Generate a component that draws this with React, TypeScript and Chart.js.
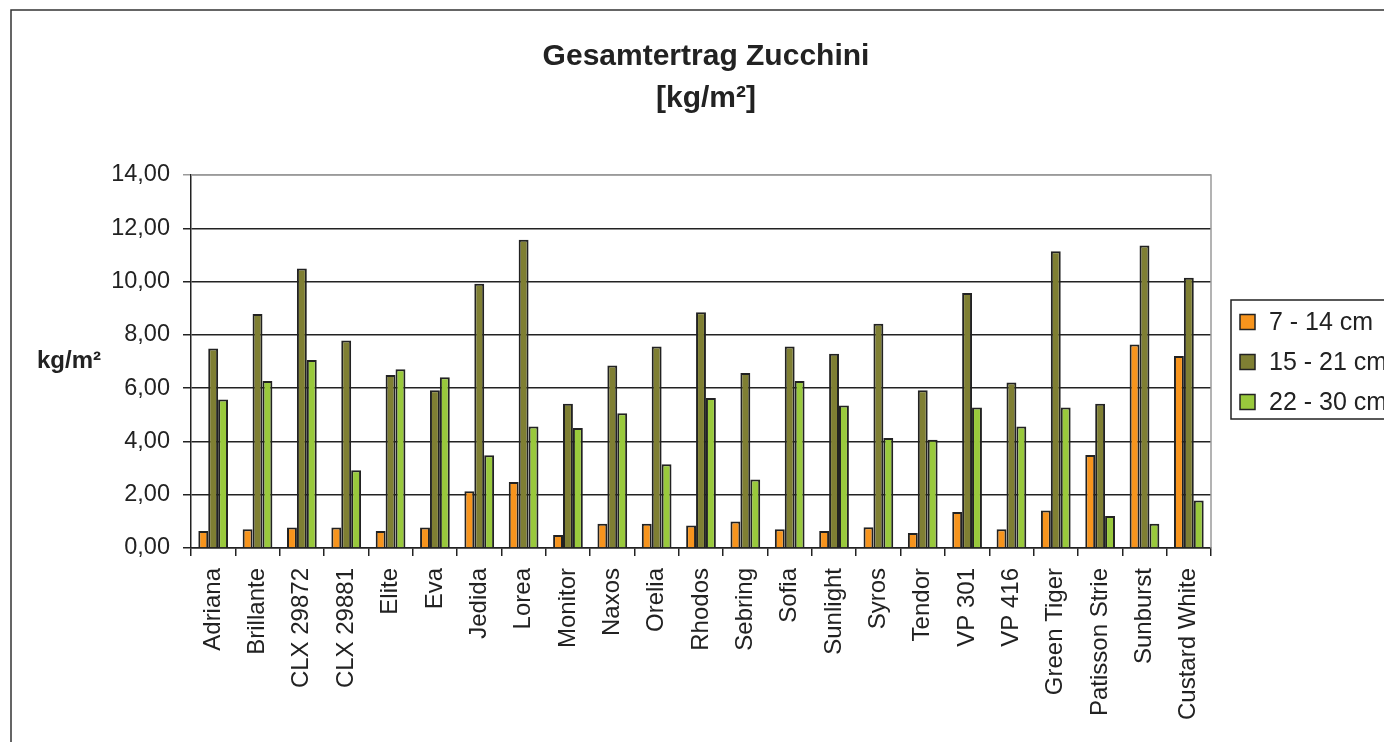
import React, { useEffect, useRef } from "react";
import { Chart, registerables } from "chart.js";

Chart.register(...registerables);

const categories = [
  "Adriana", "Brillante", "CLX 29872", "CLX 29881", "Elite", "Eva", "Jedida", "Lorea",
  "Monitor", "Naxos", "Orelia", "Rhodos", "Sebring", "Sofia", "Sunlight", "Syros",
  "Tendor", "VP 301", "VP 416", "Green Tiger", "Patisson Strie", "Sunburst", "Custard White",
];
const seriesLabels = ["7 - 14 cm", "15 - 21 cm", "22 - 30 cm"];
const small = [0.64, 0.70, 0.77, 0.77, 0.64, 0.77, 2.13, 2.48, 0.49, 0.91, 0.91, 0.84, 0.99, 0.70, 0.64, 0.78, 0.56, 1.35, 0.70, 1.41, 3.49, 7.64, 7.21];
const medium = [7.49, 8.78, 10.49, 7.79, 6.49, 5.92, 9.92, 11.57, 5.41, 6.85, 7.56, 8.85, 6.57, 7.56, 7.29, 8.42, 5.92, 9.57, 6.21, 11.14, 5.41, 11.35, 10.14];
const large = [5.57, 6.27, 7.06, 2.92, 6.71, 6.41, 3.48, 4.56, 4.50, 5.06, 3.14, 5.63, 2.57, 6.27, 5.35, 4.13, 4.06, 5.27, 4.56, 5.27, 1.20, 0.91, 1.78];
const colors = ["#F7941D", "#7F7F33", "#99C93C"];
const titleLines = ["Gesamtertrag Zucchini", "[kg/m²]"];
const yTitle = "kg/m²";

const FONT = '"Liberation Sans", Arial, sans-serif';

export default function App() {
  const ref = useRef<HTMLCanvasElement | null>(null);

  useEffect(() => {
    if (!ref.current) return;
    const decor = {
      id: "decor",
      beforeDraw(chart: any) {
        const ctx = chart.ctx;
        ctx.save();
        ctx.fillStyle = "#ffffff";
        ctx.fillRect(0, 0, chart.width, chart.height);
        ctx.strokeStyle = "#333333";
        ctx.lineWidth = 1.5;
        ctx.strokeRect(11, 10, chart.width + 50, chart.height + 50);
        ctx.restore();
      },
      afterDatasetsDraw(chart: any) {
        const ctx = chart.ctx;
        const a = chart.chartArea;
        ctx.save();
        ctx.strokeStyle = "#9a9a9a";
        ctx.lineWidth = 1.5;
        ctx.beginPath();
        ctx.moveTo(a.left, a.top);
        ctx.lineTo(a.right, a.top);
        ctx.lineTo(a.right, a.bottom);
        ctx.stroke();
        ctx.restore();
      },
      afterDraw(chart: any) {
        const ctx = chart.ctx;
        const a = chart.chartArea;
        ctx.save();
        ctx.fillStyle = "#222222";
        ctx.textAlign = "center";
        ctx.textBaseline = "alphabetic";
        ctx.font = `bold 30px ${FONT}`;
        ctx.fillText(titleLines[0], 706, 65);
        ctx.fillText(titleLines[1], 706, 107);

        ctx.textAlign = "left";
        ctx.font = `bold 24px ${FONT}`;
        ctx.textBaseline = "middle";
        ctx.fillText(yTitle, 37, (a.top + a.bottom) / 2);

        // legend
        ctx.strokeStyle = "#222222";
        ctx.lineWidth = 1.5;
        ctx.strokeRect(1231, 300, 300, 119);
        const ys = [322, 362, 402];
        chart.data.datasets.forEach((ds: any, i: number) => {
          ctx.fillStyle = ds.backgroundColor;
          ctx.fillRect(1240, ys[i] - 7.5, 15, 15);
          ctx.strokeStyle = "#222222";
          ctx.lineWidth = 1.5;
          ctx.strokeRect(1240, ys[i] - 7.5, 15, 15);
          ctx.fillStyle = "#222222";
          ctx.font = `25px ${FONT}`;
          ctx.textBaseline = "middle";
          ctx.fillText(ds.label, 1269, ys[i] + 1);
        });
        ctx.restore();
      },
    };

    const chart = new Chart(ref.current, {
      type: "bar",
      data: {
        labels: categories,
        datasets: [small, medium, large].map((d, i) => ({
          label: seriesLabels[i],
          data: d,
          backgroundColor: colors[i],
          borderColor: "#222222",
          borderWidth: 2,
          categoryPercentage: 0.67,
          barPercentage: 1.0,
        })),
      },
      options: {
        animation: false,
        responsive: false,
        layout: { padding: { top: 175, right: 173, left: 0, bottom: 0 } },
        plugins: {
          legend: { display: false },
          title: { display: false },
          tooltip: { enabled: false },
        },
        scales: {
          x: {
            afterFit(scale: any) {
              scale.height = 194;
            },
            grid: {
              display: true,
              drawOnChartArea: false,
              offset: true,
              tickLength: 8,
              color: "#222222",
              lineWidth: 1.5,
            },
            border: { display: true, color: "#222222", width: 1.5 },
            ticks: {
              autoSkip: false,
              maxRotation: 90,
              minRotation: 90,
              padding: 12,
              color: "#222222",
              font: { family: FONT, size: 24 },
            },
          },
          y: {
            min: 0,
            max: 14,
            afterFit(scale: any) {
              scale.width = 191;
            },
            ticks: {
              stepSize: 2,
              padding: 13,
              color: "#222222",
              font: { family: FONT, size: 23.5 },
              callback: (v: any) => Number(v).toFixed(2).replace(".", ","),
            },
            grid: {
              tickLength: 8,
              lineWidth: 1.5,
              color: (c: any) => (c.tick && c.tick.value === 14 ? "#9a9a9a" : "#222222"),
            },
            border: { display: true, color: "#222222", width: 1.5 },
          },
        },
      },
      plugins: [decor],
    });
    return () => chart.destroy();
  }, []);

  return (
    <div style={{ position: "fixed", left: 0, top: 0, width: 1384, height: 742, overflow: "hidden", background: "#fff" }}>
      <canvas ref={ref} width={1384} height={742} style={{ display: "block" }} />
    </div>
  );
}
